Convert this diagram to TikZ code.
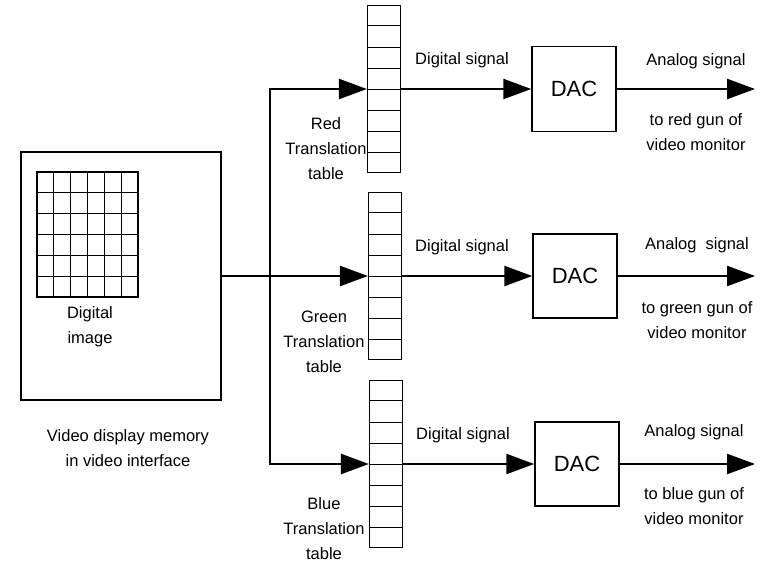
\documentclass[tikz,border=0pt]{standalone}
\usepackage{fontspec}
\setmainfont{Liberation Sans}
\usetikzlibrary{arrows.meta,calc}
\begin{document}
\begin{tikzpicture}[x=1pt,y=-1pt,
  lbl/.style={font=\fontsize{16.5}{25}\selectfont, align=center, inner sep=0pt},
  boxed/.style={draw, line width=1.5pt, inner sep=0pt},
  tablebox/.style={draw, line width=1.2pt, minimum width=33pt, minimum height=167pt, inner sep=0pt},
  dacbox/.style={draw, line width=1.5pt, minimum width=84pt, minimum height=84pt, inner sep=0pt, font=\fontsize{22}{24}\selectfont},
  sig/.style={line width=2.4pt, -{Triangle[length=28pt,width=20pt]}},
  rowline/.style={line width=0.9pt}]
\useasboundingbox (0,0) rectangle (760,562);
% memory box
\node[boxed, minimum width=200pt, minimum height=248pt] (mem) at (121,276) {};
\foreach \i in {1,...,5}{
  \draw[line width=1.1pt] ({37+\i*16.83},172) -- ({37+\i*16.83},297);
  \draw[line width=1.1pt] (37,{172+\i*20.83}) -- (138,{172+\i*20.83});
}
\draw[line width=1.4pt] (37,172) rectangle (138,297);
\node[lbl] (img) at (90,327) {Digital\\image};
\node[lbl] (memlbl) at (128,448) {Video display memory\\in video interface};
% tables
\node[tablebox] (red) at (384,89) {};
\node[tablebox] (green) at (385,276) {};
\node[tablebox] (blue) at (386,464) {};
\foreach \t in {red,green,blue}{
  \foreach \i in {1,...,7}{
    \draw[rowline] ($(\t.north west)!\i/8!(\t.south west)$) -- ($(\t.north east)!\i/8!(\t.south east)$);
  }
}
\node[lbl] (redlbl) at (326,149) {Red\\Translation\\table};
\node[lbl] (greenlbl) at (324,342) {Green\\Translation\\table};
\node[lbl] (bluelbl) at (324,529) {Blue\\Translation\\table};
% DACs
\node[dacbox, minimum height=85pt] (dacr) at (574,89) {DAC};
\node[dacbox] (dacg) at (575,276) {DAC};
\node[dacbox] (dacb) at (577,464) {DAC};
% trunk
\coordinate (jn) at (270,276);
\draw[sig] (mem.east) -- (green.west);
\draw[sig] (jn) |- (red.west);
\draw[sig] (jn) |- (blue.west);
% digital signals
\draw[sig] (red.east) -- (dacr.west);
\draw[sig] (green.east) -- (dacg.west);
\draw[sig] (blue.east) -- (dacb.west);
\node[lbl] (ds1) at (462,60) {Digital signal};
\node[lbl] (ds2) at (462,247) {Digital signal};
\node[lbl] (ds3) at (463,435) {Digital signal};
% outputs
\coordinate (outr) at (755,89);
\coordinate (outg) at (755,276);
\coordinate (outb) at (755,464);
\draw[sig] (dacr.east) -- (outr);
\draw[sig] (dacg.east) -- (outg);
\draw[sig] (dacb.east) -- (outb);
\node[lbl] (as1) at (696,61) {Analog signal};
\node[lbl] (as2) at (697,245) {Analog\ \ signal};
\node[lbl] (as3) at (694,432) {Analog signal};
\node[lbl] (to1) at (696,132) {to red gun of\\video monitor};
\node[lbl] (to2) at (697,320) {to green gun of\\video monitor};
\node[lbl] (to3) at (694,506) {to blue gun of\\video monitor};
\end{tikzpicture}
\end{document}
